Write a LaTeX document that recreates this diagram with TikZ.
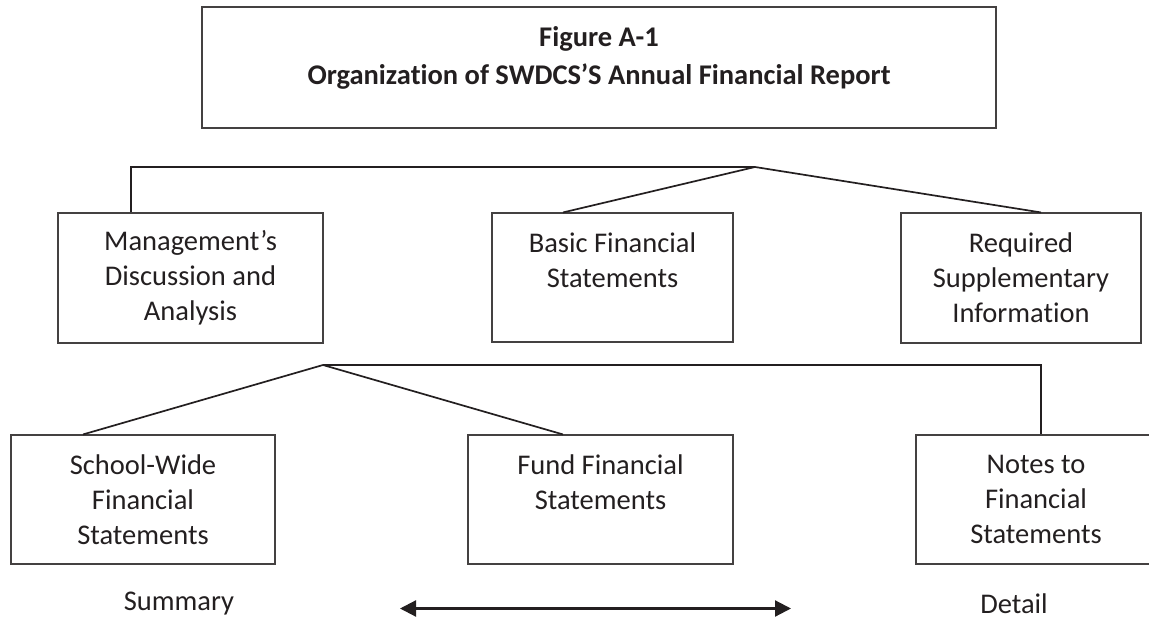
\documentclass[tikz,border=0pt]{standalone}
\usepackage{fontspec}
\setmainfont{Carlito}[Ligatures={NoCommon}]
\usetikzlibrary{arrows.meta}
\definecolor{ink}{HTML}{231F20}
\tikzset{
  box/.style={draw=ink!85, line width=1.1pt, align=center, inner sep=0pt, text=ink,
    font=\fontsize{28.5}{35}\selectfont},
  conn/.style={draw=ink, line width=1.7pt},
  lbl/.style={text=ink, font=\fontsize{28.5}{35}\selectfont, inner sep=0pt}
}
\begin{document}
\begin{tikzpicture}[x=1pt,y=-1pt]
\useasboundingbox (0,0) rectangle (1149,620);
% title
\node[box, minimum width=794pt, minimum height=121pt] (title) at (599,67.5) {};
\node[text=ink, align=center, inner sep=0pt, font=\fontsize{28.5}{38}\selectfont\bfseries] (titletext) at (599,58)
  {Figure A-1\\Organization of SWDCS’S Annual Financial Report};
% second row
\node[box, minimum width=265pt, minimum height=130pt] (mda) at (190.5,278) {Management’s\\Discussion and\\Analysis};
\node[box, minimum width=241pt, minimum height=129pt] (bfs) at (612.5,277.5) {Basic Financial\\Statements\\\mbox{}};
\node[box, minimum width=240pt, minimum height=130pt] (rsi) at (1021,278) {Required\\Supplementary\\Information};
% third row
\node[box, minimum width=264pt, minimum height=129pt] (sw) at (143,499.5) {School-Wide\\Financial\\Statements};
\node[box, minimum width=265pt, minimum height=129pt] (ffs) at (600.5,499.5) {Fund Financial\\Statements\\\mbox{}};
\node[box, minimum width=240pt, minimum height=129pt] (notes) at (1036,499.5) {Notes to\\Financial\\Statements};
% connectors
\coordinate (j1) at (755,167);
\coordinate (j2) at (323,365);
\draw[conn] ([xshift=-59.5pt]mda.north) |- (j1);
\draw[conn] (j1) -- ([xshift=-49.5pt]bfs.north);
\draw[conn] (j1) -- ([xshift=20pt]rsi.north);
\draw[conn] (j2) -- ([xshift=-60pt]sw.north);
\draw[conn] (j2) -- ([xshift=-37.5pt]ffs.north);
\draw[conn] (j2) -| ([xshift=5pt]notes.north);
% bottom
\node[lbl] (summary) at (179,604) {Summary};
\node[lbl] (detail) at (1014,604) {Detail};
\coordinate (al) at (400,608.5);
\coordinate (ar) at (791,608.5);
\draw[ink, line width=2.2pt, {Triangle[length=16pt,width=16pt]}-{Triangle[length=16pt,width=16pt]}] (al) -- (ar);
\end{tikzpicture}
\end{document}
